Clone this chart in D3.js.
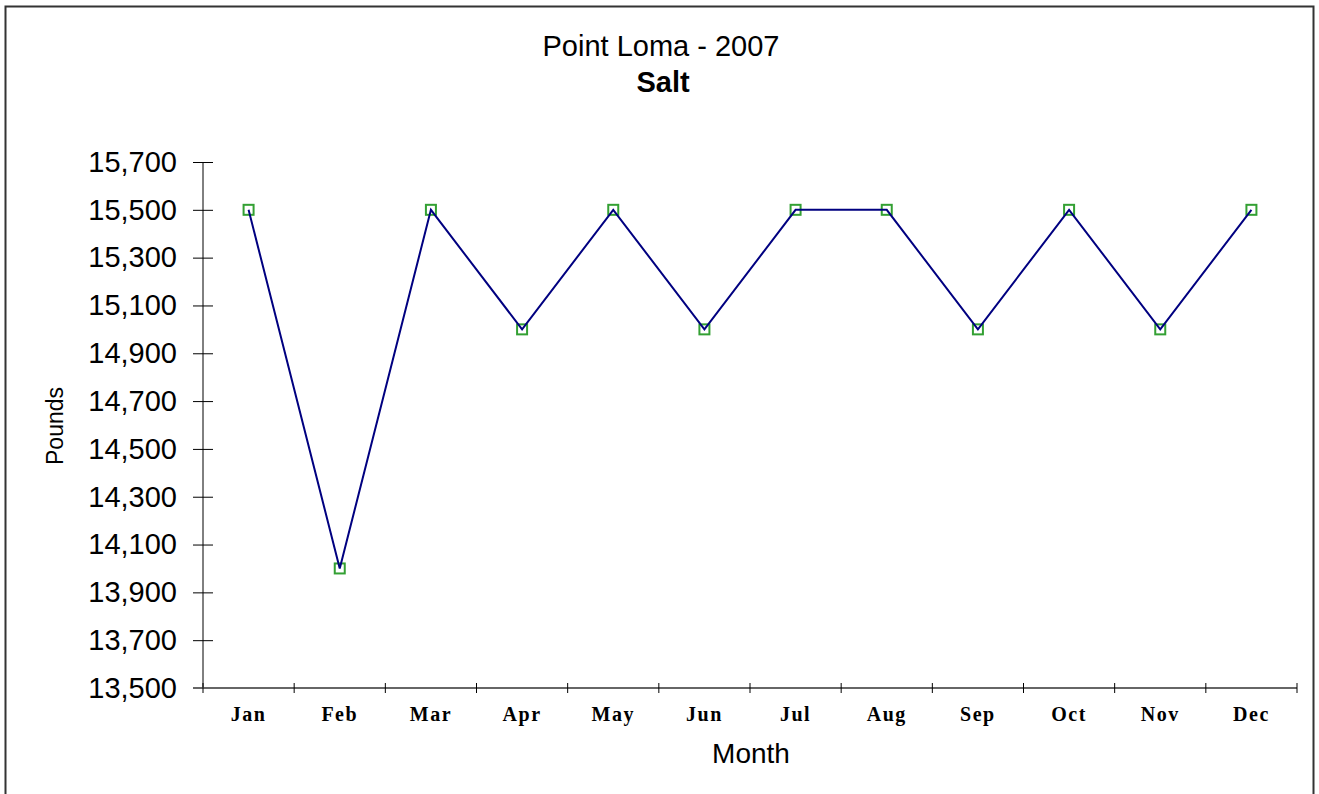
<!DOCTYPE html>
<html>
<head>
<meta charset="utf-8">
<script src="https://cdn.jsdelivr.net/npm/d3@7"></script>
<style>
  html, body { margin: 0; padding: 0; background: #fff; }
  svg { display: block; }
</style>
</head>
<body>
<svg id="chart" width="1319" height="794"></svg>
<script>
// Monthly salt usage, Point Loma, 2007
const months = ["Jan", "Feb", "Mar", "Apr", "May", "Jun", "Jul", "Aug", "Sep", "Oct", "Nov", "Dec"];
const pounds = [15500, 14000, 15500, 15000, 15500, 15000, 15500, 15500, 15000, 15500, 15000, 15500];
const yTicks = [13500, 13700, 13900, 14100, 14300, 14500, 14700, 14900, 15100, 15300, 15500, 15700];
const titleLines = ["Point Loma - 2007", "Salt"];

const svg = d3.select("#chart");
const plot = { left: 203, right: 1297, top: 162, bottom: 688 };

// chart frame
svg.append("rect")
  .attr("x", 5.5).attr("y", 6.5)
  .attr("width", 1308).attr("height", 820)
  .attr("fill", "none").attr("stroke", "#333").attr("stroke-width", 2);

const x = d3.scaleBand().domain(months).range([plot.left, plot.right]);
const y = d3.scaleLinear().domain([13500, 15700]).range([plot.bottom, plot.top]);
const fmt = d3.format(",");

// titles
svg.append("text")
  .attr("x", 661).attr("y", 56)
  .attr("text-anchor", "middle")
  .attr("font-family", "Liberation Sans, Arial, sans-serif")
  .attr("font-size", 29)
  .text(titleLines[0]);
svg.append("text")
  .attr("x", 663).attr("y", 92)
  .attr("text-anchor", "middle")
  .attr("font-family", "Liberation Sans, Arial, sans-serif")
  .attr("font-weight", "bold")
  .attr("font-size", 29)
  .text(titleLines[1]);

// y axis: ticks cross the axis line
const yAxis = svg.append("g")
  .attr("transform", `translate(${plot.left},0)`)
  .call(d3.axisLeft(y).tickValues(yTicks).tickFormat(fmt).tickSize(10).tickPadding(16));
yAxis.select(".domain").remove();
yAxis.append("line")
  .attr("x1", 0).attr("x2", 0)
  .attr("y1", plot.top).attr("y2", plot.bottom)
  .attr("stroke", "#000");
yAxis.selectAll(".tick line").attr("x2", 10).attr("x1", -10).attr("stroke", "#000");
yAxis.selectAll(".tick text")
  .attr("x", -26)
  .attr("font-family", "Liberation Sans, Arial, sans-serif")
  .attr("font-size", 29)
  .attr("fill", "#000");

// x axis: ticks on band boundaries
const xAxisG = svg.append("g").attr("transform", `translate(0,${plot.bottom})`);
const bounds = months.map(m => x(m)).concat([plot.right]);
xAxisG.append("line")
  .attr("x1", plot.left - 10).attr("x2", plot.right)
  .attr("y1", 0).attr("y2", 0)
  .attr("stroke", "#666").attr("stroke-width", 2);
xAxisG.selectAll("line.tk").data(bounds).join("line")
  .attr("class", "tk")
  .attr("x1", d => d).attr("x2", d => d)
  .attr("y1", -5).attr("y2", 5)
  .attr("stroke", "#000");
xAxisG.selectAll("text.lbl").data(months).join("text")
  .attr("class", "lbl")
  .attr("x", d => x(d) + x.bandwidth() / 2)
  .attr("y", 33)
  .attr("text-anchor", "middle")
  .attr("font-family", "Liberation Serif, Times New Roman, serif")
  .attr("font-weight", "bold")
  .attr("font-size", 20)
  .attr("letter-spacing", 1.5)
  .text(d => d);

// axis titles
svg.append("text")
  .attr("transform", "translate(63,426) rotate(-90)")
  .attr("text-anchor", "middle")
  .attr("font-family", "Liberation Sans, Arial, sans-serif")
  .attr("font-size", 23)
  .text("Pounds");
svg.append("text")
  .attr("x", 751).attr("y", 763)
  .attr("text-anchor", "middle")
  .attr("font-family", "Liberation Sans, Arial, sans-serif")
  .attr("font-size", 28)
  .text("Month");

// markers and series line
const cx = d => x(d) + x.bandwidth() / 2;
svg.append("g").selectAll("rect").data(months).join("rect")
  .attr("x", (d) => cx(d) - 5)
  .attr("y", (d, i) => y(pounds[i]) - 5)
  .attr("width", 10).attr("height", 10)
  .attr("fill", "#fff")
  .attr("stroke", "#33a033").attr("stroke-width", 2);

svg.append("path")
  .datum(pounds)
  .attr("fill", "none")
  .attr("stroke", "#000080")
  .attr("stroke-width", 2)
  .attr("d", d3.line().x((d, i) => cx(months[i])).y(d => y(d)));
</script>
</body>
</html>
